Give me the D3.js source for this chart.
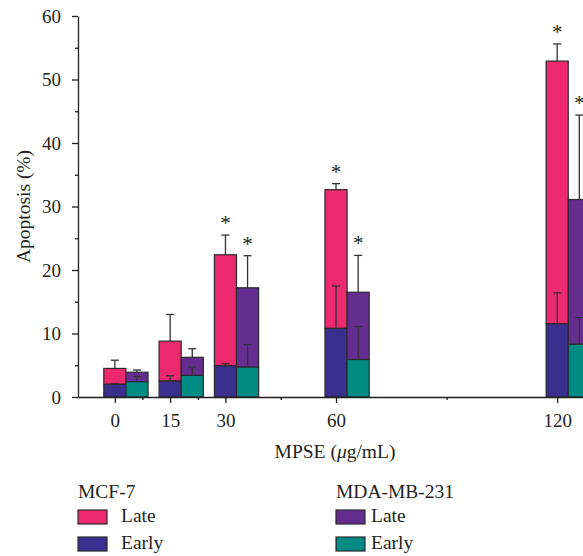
<!DOCTYPE html>
<html>
<head>
<meta charset="utf-8">
<script src="https://cdn.jsdelivr.net/npm/d3@7"></script>
<style>
  body { margin: 0; background: #fff; }
  svg { display: block; }
  text { font-family: "Liberation Serif", "Times New Roman", serif; fill: #231f20; }
</style>
</head>
<body>
<div id="chart"></div>
<script>
// MPSE doses (ug/mL)
var doses = [0, 15, 30, 60, 120];

// MCF-7: early / late apoptosis (%) and SD
var mcfEarly = [2.0, 2.5, 4.9, 10.8, 11.5];
var mcfEarlyErr = [0.1, 0.85, 0.35, 6.7, 4.9];
var mcfLate = [2.5, 6.3, 17.5, 21.85, 41.4];
var mcfLateErr = [1.3, 4.2, 3.1, 0.95, 2.7];

// MDA-MB-231
var mdaEarly = [2.4, 3.4, 4.7, 5.9, 8.3];
var mdaEarlyErr = [0.8, 1.3, 3.55, 5.2, 4.2];
var mdaLate = [1.5, 2.85, 12.5, 10.6, 22.8];
var mdaLateErr = [0.35, 1.35, 5.05, 5.8, 13.3];

// significance marks
var mcfSig = [false, false, true, true, true];
var mdaSig = [false, false, true, true, true];

var yTicks = [0, 10, 20, 30, 40, 50, 60];
var yMinor = [5, 15, 25, 35, 45, 55];
var xMinor = [7.5, 22.5, 45, 90];

var colors = {
  mcfLate: '#ee2a6e',
  mcfEarly: '#3a2f8f',
  mdaLate: '#662d91',
  mdaEarly: '#008b84'
};

var W = 583, H = 556;
var ink = '#231f20';

var svg = d3.select('#chart').append('svg')
  .attr('width', W)
  .attr('height', H);

var x = d3.scaleLinear().domain([-10, 127]).range([78, 583]);
var y = d3.scaleLinear().domain([0, 60]).range([397, 16]);

var half = 3; // bar half width in dose units

var series = [
  { early: mcfEarly, earlyErr: mcfEarlyErr, late: mcfLate, lateErr: mcfLateErr,
    sig: mcfSig, off: 0, cEarly: colors.mcfEarly, cLate: colors.mcfLate },
  { early: mdaEarly, earlyErr: mdaEarlyErr, late: mdaLate, lateErr: mdaLateErr,
    sig: mdaSig, off: 2 * half, cEarly: colors.mdaEarly, cLate: colors.mdaLate }
];

var bars = svg.append('g');
var errs = svg.append('g');

series.forEach(function (s) {
  var rows = doses.map(function (d, i) {
    return { dose: d, early: s.early[i], earlyErr: s.earlyErr[i],
      total: s.early[i] + s.late[i], lateErr: s.lateErr[i], sig: s.sig[i] };
  });

  var g = bars.selectAll(null).data(rows).enter().append('g');
  g.append('rect')
    .attr('x', function (d) { return x(d.dose + s.off - half); })
    .attr('width', x(2 * half) - x(0))
    .attr('y', function (d) { return y(d.total); })
    .attr('height', function (d) { return y(d.early) - y(d.total); })
    .attr('fill', s.cLate)
    .attr('stroke', '#2b2b2b')
    .attr('stroke-width', 1.2);
  g.append('rect')
    .attr('x', function (d) { return x(d.dose + s.off - half); })
    .attr('width', x(2 * half) - x(0))
    .attr('y', function (d) { return y(d.early); })
    .attr('height', function (d) { return y(0) - y(d.early); })
    .attr('fill', s.cEarly)
    .attr('stroke', '#2b2b2b')
    .attr('stroke-width', 1.2);

  // error bars (upper only)
  function errBar(sel, base, top) {
    sel.append('line')
      .attr('x1', function (d) { return x(d.dose + s.off); })
      .attr('x2', function (d) { return x(d.dose + s.off); })
      .attr('y1', function (d) { return y(base(d)); })
      .attr('y2', function (d) { return y(top(d)); });
    sel.append('line')
      .attr('x1', function (d) { return x(d.dose + s.off) - 4; })
      .attr('x2', function (d) { return x(d.dose + s.off) + 4; })
      .attr('y1', function (d) { return y(top(d)); })
      .attr('y2', function (d) { return y(top(d)); });
  }
  var e = errs.selectAll(null).data(rows).enter().append('g')
    .attr('stroke', '#333')
    .attr('stroke-width', 1.3);
  errBar(e, function (d) { return d.early; }, function (d) { return d.early + d.earlyErr; });
  errBar(e, function (d) { return d.total; }, function (d) { return d.total + d.lateErr; });

  svg.append('g').selectAll('text')
    .data(rows.filter(function (d) { return d.sig; }))
    .enter().append('text')
    .attr('x', function (d) { return x(d.dose + s.off); })
    .attr('y', function (d) { return y(d.total + d.lateErr) - 5; })
    .attr('text-anchor', 'middle')
    .style('font-size', '21px')
    .text('*');
});

// axes
function styleAxis(g) {
  g.selectAll('path, line').attr('stroke', ink).attr('stroke-width', 1.3);
  g.selectAll('text').style('font-size', '19px').attr('fill', ink);
}

svg.append('g')
  .attr('transform', 'translate(0,' + y(0) + ')')
  .call(d3.axisBottom(x).tickValues(xMinor).tickSize(3).tickSizeOuter(0).tickFormat(''))
  .call(styleAxis);
svg.append('g')
  .attr('transform', 'translate(0,' + y(0) + ')')
  .call(d3.axisBottom(x).tickValues(doses).tickSize(6).tickSizeOuter(0).tickPadding(11))
  .call(styleAxis)
  .select('.domain').remove();

svg.append('g')
  .attr('transform', 'translate(' + x(-10) + ',0)')
  .call(d3.axisLeft(y).tickValues(yMinor).tickSize(3).tickSizeOuter(0).tickFormat(''))
  .call(styleAxis);
svg.append('g')
  .attr('transform', 'translate(' + x(-10) + ',0)')
  .call(d3.axisLeft(y).tickValues(yTicks).tickSize(6).tickSizeOuter(0).tickPadding(11))
  .call(styleAxis)
  .select('.domain').remove();

svg.selectAll('.tick text').style('font-family', '"Liberation Serif", serif');

// axis titles
svg.append('text')
  .attr('transform', 'translate(30,' + (y(30)) + ') rotate(-90)')
  .attr('text-anchor', 'middle')
  .style('font-size', '19.5px')
  .text('Apoptosis (%)');

var xt = svg.append('text')
  .attr('x', 335)
  .attr('y', 458)
  .attr('text-anchor', 'middle')
  .style('font-size', '19.5px');
xt.append('tspan').text('MPSE (');
xt.append('tspan').style('font-style', 'italic').text('\u03bc');
xt.append('tspan').text('g/mL)');

// legend
var legend = [
  { title: 'MCF-7', x: 78, items: [['Late', colors.mcfLate], ['Early', colors.mcfEarly]], gap: 14 },
  { title: 'MDA-MB-231', x: 336, items: [['Late', colors.mdaLate], ['Early', colors.mdaEarly]], gap: 6 }
];
legend.forEach(function (L) {
  var g = svg.append('g').attr('transform', 'translate(' + L.x + ',0)');
  g.append('text').attr('x', 0).attr('y', 498).style('font-size', '19.5px').text(L.title);
  L.items.forEach(function (it, i) {
    g.append('rect')
      .attr('x', 0).attr('y', 510 + i * 27)
      .attr('width', 29).attr('height', 14)
      .attr('fill', it[1])
      .attr('stroke', '#2b2b2b').attr('stroke-width', 1.2);
    g.append('text')
      .attr('x', 29 + L.gap).attr('y', 522 + i * 26.5)
      .style('font-size', '19.5px')
      .text(it[0]);
  });
});
</script>
</body>
</html>
